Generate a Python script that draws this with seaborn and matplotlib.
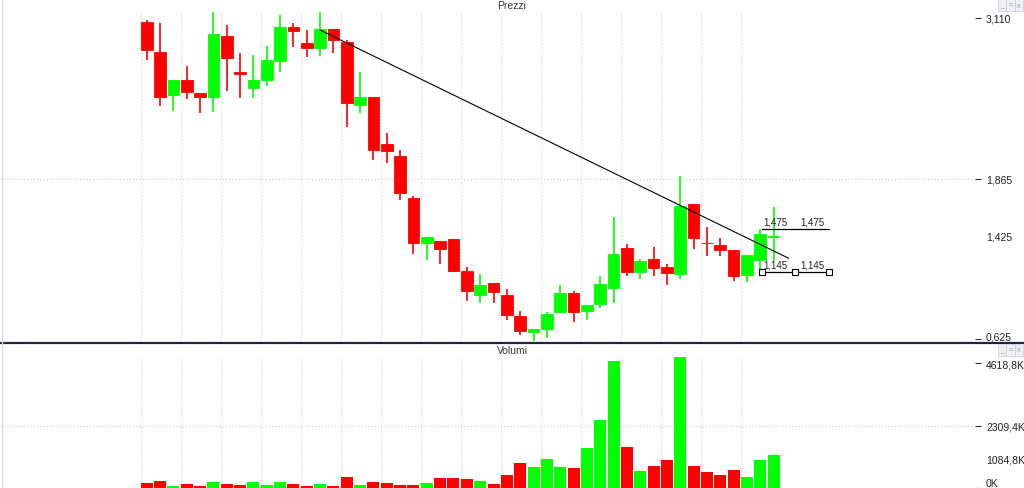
import numpy as np
import pandas as pd
import matplotlib.pyplot as plt
import seaborn as sns

# daily candles (price panel)
opens = [3.077, 2.845, 2.516, 2.632, 2.527, 2.496, 2.973, 2.690, 2.566, 2.632,
         2.780, 3.043, 2.917, 2.880, 3.025, 2.922, 2.439, 2.501, 2.132, 2.044,
         1.715, 1.371, 1.382, 1.400, 1.154, 0.966, 1.057, 0.966, 0.801, 0.682,
         0.703, 0.837, 0.982, 0.842, 0.894, 1.023, 1.330, 1.144, 1.245, 1.180,
         1.130, 1.668, 1.372, 1.353, 1.317, 1.121, 1.239, 1.415]
highs = [3.097, 3.071, 2.632, 2.741, 2.527, 3.154, 3.056, 2.839, 2.824, 2.891,
         3.133, 3.071, 3.017, 3.154, 3.025, 2.942, 2.690, 2.501, 2.220, 2.088,
         1.730, 1.417, 1.382, 1.400, 1.180, 1.126, 1.057, 1.010, 0.842, 0.703,
         0.832, 1.043, 0.999, 0.889, 1.115, 1.572, 1.361, 1.245, 1.335, 1.206,
         1.889, 1.668, 1.490, 1.405, 1.317, 1.276, 1.477, 1.645]
lows = [2.785, 2.427, 2.393, 2.483, 2.375, 2.380, 2.547, 2.489, 2.489, 2.586,
        2.690, 2.888, 2.806, 2.818, 2.837, 2.269, 2.375, 2.013, 1.988, 1.704,
        1.283, 1.237, 1.206, 1.146, 0.922, 0.904, 0.906, 0.775, 0.656, 0.610,
        0.631, 0.837, 0.755, 0.775, 0.863, 0.904, 1.111, 1.090, 1.111, 1.043,
        1.090, 1.322, 1.270, 1.266, 1.074, 1.064, 1.152, 1.232]
closes = [2.862, 2.496, 2.632, 2.535, 2.496, 2.989, 2.798, 2.679, 2.632, 2.785,
          3.043, 3.012, 2.880, 3.025, 2.942, 2.452, 2.501, 2.091, 2.083, 1.756,
          1.371, 1.417, 1.320, 1.154, 0.997, 1.043, 0.991, 0.811, 0.690, 0.703,
          0.819, 0.982, 0.832, 0.889, 1.051, 1.286, 1.142, 1.229, 1.173, 1.134,
          1.653, 1.405, 1.365, 1.317, 1.115, 1.276, 1.436, 1.423]
# volumes in K
volumes = [185, 248, 85, 148, 85, 233, 148, 122, 233, 122,
           233, 148, 74, 148, 85, 396, 122, 233, 185, 122,
           122, 185, 370, 370, 333, 270, 148, 481, 926, 765,
           1074, 765, 728, 1494, 2519, 4691, 1531, 642, 802, 1037,
           4840, 802, 580, 481, 667, 395, 1048, 1222]

price_ticks = [3.110, 1.865, 1.425, 0.625]
volume_ticks = [4618.8, 2309.4, 1084.8, 0.0]

# trend line and levels drawn on the chart
trend_x = [13.0, 48.13]
trend_y = [3.017, 1.250]
level_hi = 1.475
level_lo = 1.145
level_x = [46.14, 51.13]
level_marks = [46.14, 48.6, 51.13]

RED = '#ff0000'
GREEN = '#00ff00'

sns.set_style('white')
plt.rcParams['font.family'] = ['Liberation Sans', 'DejaVu Sans']

idx = np.arange(len(opens))
o = np.array(opens); c = np.array(closes)
cols = [GREEN if cc >= oo else RED for oo, cc in zip(o, c)]

fig = plt.figure(figsize=(10.24, 4.89), dpi=100)
W, H = 1024, 489
ax_p = fig.add_axes([0, 1 - 343 / H, 975 / W, (343 - 12) / H])
ax_v = fig.add_axes([0, 0, 975 / W, (489 - 357) / H], sharex=ax_p)

# candles
ax_p.vlines(idx, lows, highs, colors=cols, lw=1.2, zorder=3)
ax_p.bar(idx, np.abs(c - o), bottom=np.minimum(o, c), width=0.88,
         color=cols, edgecolor=cols, lw=0.6, zorder=4)

ax_p.plot(trend_x, trend_y, color='black', lw=0.8, zorder=5)
for lv in (level_hi, level_lo):
    ax_p.plot(level_x, [lv, lv], color='black', lw=0.9, zorder=5)
    lab = f"{lv:.3f}".replace('.', ',')
    ax_p.text(46.2, lv + 0.022, lab, fontsize=7, color='#222', va='bottom', zorder=6)
    ax_p.text(49.0, lv + 0.022, lab, fontsize=7, color='#222', va='bottom', zorder=6)
ax_p.scatter(level_marks, [level_lo] * 3, marker='s', s=22, facecolor='white',
             edgecolor='black', lw=0.8, zorder=6)

# volume
vol_df = pd.DataFrame({'idx': idx, 'volume': volumes,
                       'dir': ['up' if cc == GREEN else 'down' for cc in cols]})
sns.barplot(data=vol_df, x='idx', y='volume', hue='dir',
            palette={'up': GREEN, 'down': RED}, native_scale=True, dodge=False,
            width=0.9, saturation=1, errorbar=None, legend=False, linewidth=0,
            ax=ax_v)

grid_x = np.arange(0, 46, 3) - 0.45
for ax in (ax_p, ax_v):
    ax.set_xlim(-11.0, 62.1)
    ax.set_xticks(grid_x)
    ax.tick_params(axis='x', bottom=False, labelbottom=False)
    ax.grid(axis='x', color='#d8d8d8', ls=':', lw=0.9)
    ax.set_axisbelow(True)
    for s in ax.spines.values():
        s.set_visible(False)
    ax.set_xlabel('')
    ax.set_ylabel('')
    ax.yaxis.tick_right()
    ax.tick_params(axis='y', right=True, left=False, length=4, width=0.8,
                   color='#333', labelsize=7.5, labelcolor='#222', pad=4)

ax_p.set_ylim(0.602, 3.164)
ax_p.set_yticks(price_ticks)
ax_p.set_yticklabels([f"{v:.3f}".replace('.', ',') for v in price_ticks])
ax_v.set_ylim(0, 4889)
ax_v.set_yticks(volume_ticks)
ax_v.set_yticklabels([f"{v:.1f}K".replace('.', ',') if v else "0K" for v in volume_ticks])

for ax, mid, hidden in ((ax_p, 1, 2), (ax_v, 1, 2)):
    ax.grid(axis='y', color='#d0d0d0', ls=':', lw=0.9)
    for k, t in enumerate(ax.yaxis.get_major_ticks()):
        t.gridline.set_visible(k == mid)
        if k == hidden:
            t.tick2line.set_visible(False)
ax_v.yaxis.get_major_ticks()[-1].label2.set_va('bottom')
ax_p.yaxis.get_major_ticks()[-1].label2.set_va('baseline')

# panel headers and frame
fig.text(0.5, 1 - 6 / H, 'Prezzi', ha='center', va='center', fontsize=7.5, color='#333')
fig.text(0.5, 1 - 351 / H, 'Volumi', ha='center', va='center', fontsize=7.5, color='#333')
fig.add_artist(plt.Line2D([0, 1], [1 - 343.5 / H] * 2, color='#1c2541', lw=1.6))
fig.add_artist(plt.Line2D([2 / W, 2 / W], [0, 1], color='#dddddd', lw=1))
for ytop in (1, 346):
    for k, g in enumerate(['_', '=', 'x']):
        fig.text((1002 + k * 8.5) / W, 1 - (ytop + 5) / H, g, ha='center', va='center',
                 fontsize=5, color='#8a9ab0',
                 bbox=dict(boxstyle='square,pad=0.3', fc='#eef0f4', ec='#c8ccd4', lw=0.5))

fig.savefig('out.png', dpi=100)
